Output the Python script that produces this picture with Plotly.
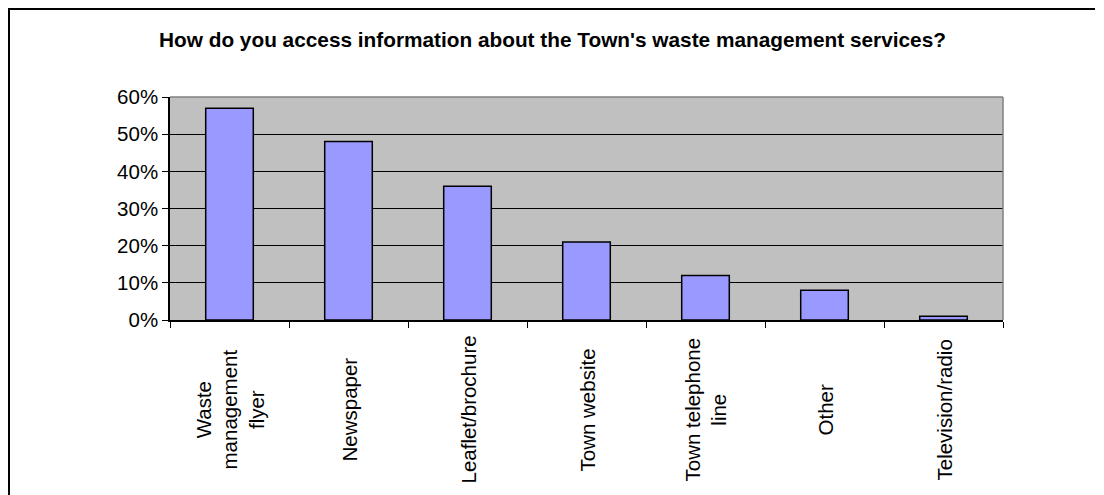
import plotly.graph_objects as go

categories = ["Waste<br>management<br>flyer", "Newspaper", "Leaflet/brochure", "Town website",
              "Town telephone<br>line", "Other", "Television/radio"]
values = [0.57, 0.48, 0.36, 0.21, 0.12, 0.08, 0.01]
title_text = "How do you access information about the Town's waste management services?"

FONT = "Liberation Sans, Arial, sans-serif"
OFF = 8  # page body offset
W, H = 1104 - OFF, 495 - OFF
L, T = 170 - OFF, 97 - OFF
R = W - (1003 - OFF)
B = H - (320 - OFF)
pw, ph = W - L - R, H - T - B

fig = go.Figure()
fig.add_trace(go.Bar(
    x=categories, y=values,
    marker=dict(color="#9999FF", line=dict(color="black", width=1.5)),
))

def px_to_paper_x(px):
    return (px - OFF - L) / pw

def px_to_paper_y(py):
    return (H - B - (py - OFF)) / ph

annotations = [dict(
    x=px_to_paper_x(552), xref="paper", y=px_to_paper_y(40), yref="paper",
    text="<b>" + title_text + "</b>", showarrow=False,
    font=dict(family=FONT, size=20.8, color="black"), xanchor="center", yanchor="middle")]
for c in categories:
    annotations.append(dict(
        x=c, xref="x", y=0, yref="paper", yshift=-90,
        text=c, textangle=-90, showarrow=False, align="center",
        xanchor="center", yanchor="middle",
        font=dict(family=FONT, size=20.5, color="black")))

shapes = [
    dict(type="line", xref="paper", yref="paper", x0=px_to_paper_x(8), x1=px_to_paper_x(1095),
         y0=px_to_paper_y(9), y1=px_to_paper_y(9), line=dict(color="black", width=2)),
    dict(type="line", xref="paper", yref="paper", x0=px_to_paper_x(9), x1=px_to_paper_x(9),
         y0=px_to_paper_y(8), y1=px_to_paper_y(500), line=dict(color="black", width=2)),
    dict(type="line", xref="paper", yref="paper", x0=0, x1=1, y0=1, y1=1,
         line=dict(color="#808080", width=1.5)),
    dict(type="line", xref="paper", yref="paper", x0=1, x1=1, y0=0, y1=1,
         line=dict(color="#808080", width=1.5)),
]

fig.update_layout(
    width=W, height=H,
    margin=dict(l=L, r=R, t=T, b=B),
    paper_bgcolor="white", plot_bgcolor="#C0C0C0",
    bargap=0.6, showlegend=False,
    annotations=annotations, shapes=shapes,
    font=dict(family=FONT, color="black"),
)
fig.update_xaxes(
    type="category", tickson="boundaries", ticks="outside", ticklen=6, tickcolor="black",
    showticklabels=False, showgrid=False, showline=True, linecolor="black", linewidth=1.5,
    zeroline=False,
)
fig.update_yaxes(
    range=[0, 0.6], dtick=0.1, tickformat=".0%", ticks="outside", ticklen=6, tickcolor="black",
    showline=True, linecolor="black", linewidth=1.5, gridcolor="black", gridwidth=1,
    zeroline=False, tickfont=dict(family=FONT, size=20.5, color="black"),
)

fig.write_html("out.html")
